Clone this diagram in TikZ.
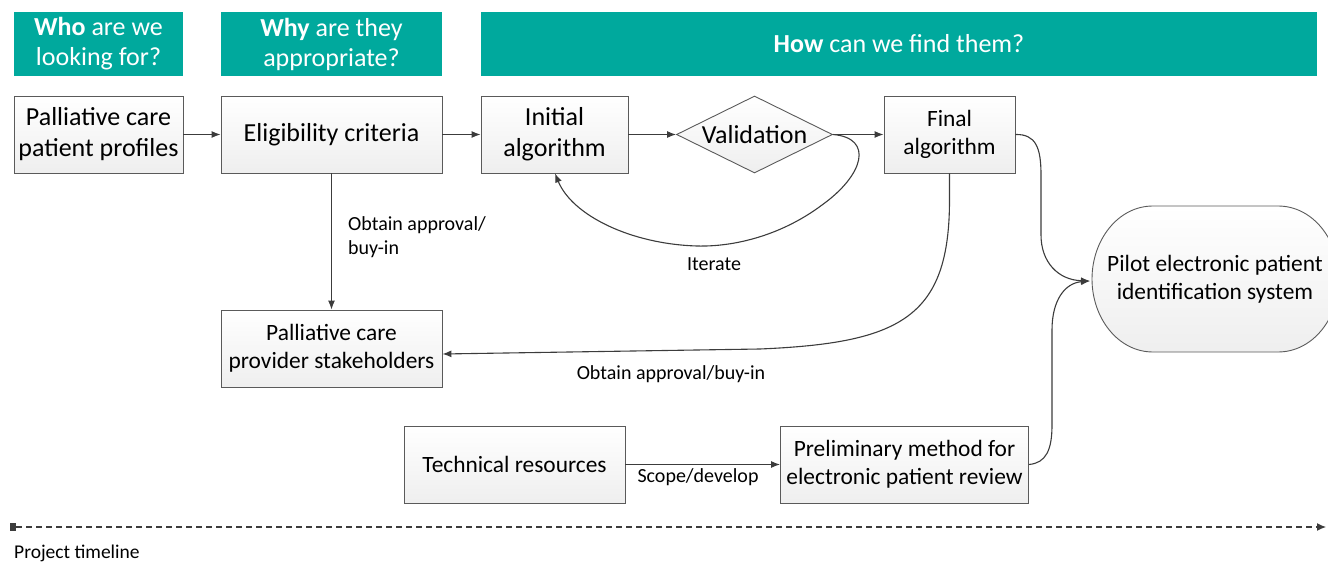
\documentclass[tikz,border=0pt]{standalone}
\usepackage{fontspec}
\setmainfont{Carlito}
\usetikzlibrary{arrows.meta,shapes.geometric}
\definecolor{teal1}{RGB}{0,169,157}
\definecolor{linec}{RGB}{60,60,60}
\definecolor{boxc}{RGB}{90,90,90}
\newcommand\mainfs{\fontsize{26}{31}\selectfont}
\newcommand\smallfs{\fontsize{23.4}{28}\selectfont}
\newcommand\hdrfs{\fontsize{26}{30}\selectfont}
\newcommand\lblfs{\fontsize{20}{24}\selectfont}
\begin{document}
\begin{tikzpicture}[x=1pt,y=-1pt,
  box/.style={draw=boxc, line width=0.9pt, top color=white, bottom color=gray!13, align=center, inner sep=0pt, minimum height=77pt, font=\mainfs, text=black},
  sbox/.style={box, font=\smallfs},
  hdr/.style={fill=teal1, text=white, align=center, inner sep=0pt, minimum height=64pt, font=\hdrfs},
  arr/.style={draw=linec, line width=1.1pt, -{Latex[length=9pt,width=7pt]}},
  lbl/.style={font=\lblfs, align=left, inner sep=0pt, text=black}]
\useasboundingbox (0,0) rectangle (1328,567);
% headers
\node[hdr, minimum width=169pt] (h1) at (98.5,44) {\textbf{Who} are we\\looking for?};
\node[hdr, minimum width=221pt] (h2) at (331.5,44) {\textbf{Why} are they\\appropriate?};
\node[hdr, minimum width=836pt] (h3) at (899,44) {\textbf{How} can we find them?};
% boxes
\node[box, minimum width=169pt] (prof) at (98.5,134.5) {Palliative care\\patient profiles};
\node[box, minimum width=221pt] (elig) at (331.5,134.5) {Eligibility criteria};
\node[box, minimum width=147pt] (init) at (554.5,134.5) {Initial\\algorithm};
\node[diamond, aspect=2, draw=boxc, line width=0.9pt, top color=white, bottom color=gray!13, inner sep=0pt, minimum width=156pt, minimum height=77pt, font=\mainfs] (val) at (754.5,134.5) {Validation};
\node[sbox, minimum width=131pt] (final) at (949.5,134.5) {Final\\algorithm};
\node[sbox, minimum width=221pt] (stake) at (331.5,348.5) {Palliative care\\provider stakeholders};
\node[sbox, minimum width=221pt] (tech) at (514.5,464.5) {Technical resources};
\node[sbox, minimum width=248pt] (prelim) at (904.5,464.5) {Preliminary method for\\electronic patient review};
% pilot shape
\path[draw=boxc, line width=0.9pt, top color=white, bottom color=gray!13]
  (1153,206) -- (1278,206) .. controls (1313,206) and (1339,240) .. (1339,279)
  .. controls (1339,318) and (1313,352) .. (1278,352) -- (1153,352)
  .. controls (1118,352) and (1092,318) .. (1092,279)
  .. controls (1092,240) and (1118,206) .. (1153,206) -- cycle;
\node[font=\smallfs, align=center, inner sep=0pt] (pilot) at (1215,279) {Pilot electronic patient\\identification system};
\coordinate (pilotin) at (1090,281);
% connectors
\draw[arr] (prof.east) -- (elig.west);
\draw[arr] (elig.east) -- (init.west);
\draw[arr] (init.east) -- (val.west);
\draw[arr] (val.east) -- (final.west);
\draw[arr] (val.east) .. controls (874,138) and (864,175) .. (822,205)
  .. controls (782,235) and (735,247) .. (697,246)
  .. controls (630,244) and (572,215) .. ([xshift=0.5pt]init.south);
\draw[arr] (elig.south) -- (stake.north);
\draw[arr] (final.south) -- (949.5,200) .. controls (949.5,318) and (900,343) .. (760,349)
  -- ([yshift=-5.5pt]stake.east);
\draw[arr] (final.east) .. controls (1036,134) and (1041,148) .. (1041,175)
  -- (1041,235) .. controls (1041,262) and (1058,280) .. (pilotin);
\draw[arr] (prelim.east) .. controls (1046,463) and (1052,450) .. (1052,425)
  -- (1052,330) .. controls (1052,300) and (1065,283) .. (pilotin);
\draw[arr] (tech.east) -- (prelim.west);
% labels
\node[lbl, anchor=west] (l1) at (348,237) {Obtain approval/\\buy-in};
\node[lbl] (l2) at (714,264) {Iterate};
\node[lbl] (l3) at (671,374) {Obtain approval/buy-in};
\node[lbl] (l4) at (698,477) {Scope/develop};
% timeline
\node[fill=linec, minimum width=6pt, minimum height=8pt, inner sep=0pt] (tls) at (13,527) {};
\coordinate (tle) at (1326,527);
\draw[draw=linec, line width=1.2pt, dash pattern=on 6pt off 4pt, -{Latex[length=9pt,width=8pt]}] (tls.east) -- (tle);
\node[font=\fontsize{19.5}{24}\selectfont, anchor=west, inner sep=0pt] (tlt) at (14,553) {Project timeline};
\end{tikzpicture}
\end{document}
